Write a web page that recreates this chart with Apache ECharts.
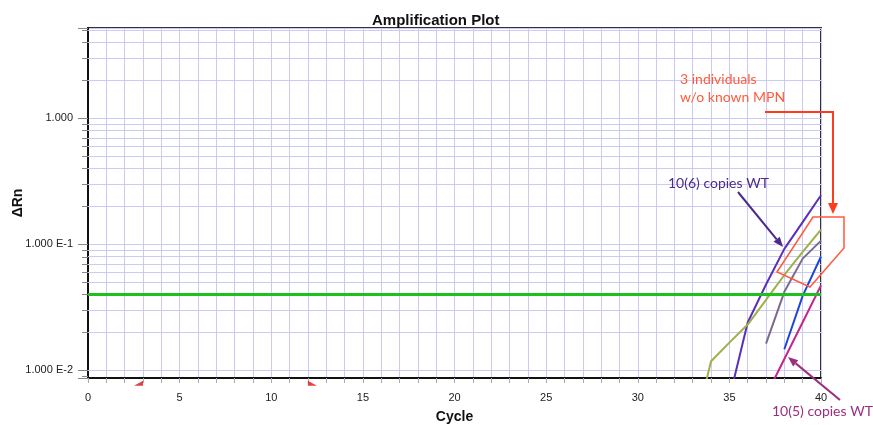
<!DOCTYPE html>
<html>
<head>
<meta charset="utf-8">
<title>Amplification Plot</title>
<script src="https://cdn.jsdelivr.net/npm/echarts@6/dist/echarts.min.js"></script>
<style>
  html, body { margin: 0; padding: 0; background: #fff; }
  #main { width: 873px; height: 425px; }
</style>
</head>
<body>
<div id="main"></div>
<script>
// ΔRn per cycle
var wt6Cycles = [35, 36, 37, 38, 39, 40];
var wt6Values = [0.006, 0.024, 0.048, 0.092, 0.15, 0.245];
var ind1Cycles = [33, 34, 35, 36, 37, 38, 39, 40];
var ind1Values = [0.003, 0.0118, 0.0166, 0.0231, 0.0363, 0.0571, 0.087, 0.131];
var ind2Cycles = [37, 38, 39, 40];
var ind2Values = [0.0163, 0.042, 0.077, 0.107];
var ind3Cycles = [38, 39, 40];
var ind3Values = [0.0147, 0.039, 0.08];
var wt5Cycles = [37, 38, 39, 40];
var wt5Values = [0.0063, 0.0123, 0.0241, 0.0472];

var threshold = 0.04;
var baselineCycles = [3, 12];
var yLabels = { '0': '1.000', '-1': '1.000 E-1', '-2': '1.000 E-2' };

var yMin = 0.0087, yMax = 5.2;
var gridColor = '#cbcbf2';
var font = 'Liberation Sans, Arial, sans-serif';

// 2..9 x 10^k inside the axis range (log minor grid)
var minorValues = [];
for (var e = -3; e <= 0; e++) {
  for (var m = 2; m <= 9; m++) {
    var v = m * Math.pow(10, e);
    if (v > yMin && v < yMax) minorValues.push(v);
  }
}

function pairs(xs, ys) {
  return xs.map(function (c, i) { return [c, ys[i]]; });
}

function curve(name, xs, ys, color) {
  return {
    name: name,
    type: 'line',
    data: pairs(xs, ys),
    symbol: 'none',
    clip: true,
    lineStyle: { color: color, width: 2 },
    itemStyle: { color: color },
    z: 3
  };
}

// arrow as a line plus a filled head
function arrow(x1, y1, x2, y2, color, w) {
  var dx = x2 - x1, dy = y2 - y1, L = Math.sqrt(dx * dx + dy * dy);
  var ux = dx / L, uy = dy / L, hl = 10, hw = 4;
  var bx = x2 - ux * hl, by = y2 - uy * hl;
  return [
    { type: 'line', z: 100, shape: { x1: x1, y1: y1, x2: bx, y2: by }, style: { stroke: color, lineWidth: w } },
    { type: 'polygon', z: 100, shape: { points: [[x2, y2], [bx - uy * hw, by + ux * hw], [bx + uy * hw, by - ux * hw]] }, style: { fill: color } }
  ];
}

var chart = echarts.init(document.getElementById('main'));

var lines = [
  curve('10(6) copies WT', wt6Cycles, wt6Values, '#5a2fb8'),
  curve('individual 1', ind1Cycles, ind1Values, '#9db04a'),
  curve('individual 2', ind2Cycles, ind2Values, '#7b6a8e'),
  curve('individual 3', ind3Cycles, ind3Values, '#1e46d8'),
  curve('10(5) copies WT', wt5Cycles, wt5Values, '#c4248e')
];

// threshold line
lines[0].markLine = {
  silent: true,
  symbol: 'none',
  label: { show: false },
  lineStyle: { color: '#1fbf1f', width: 3, type: 'solid' },
  data: [{ yAxis: threshold }],
  z: 4
};

// minor horizontal grid
lines[1].markLine = {
  silent: true,
  symbol: 'none',
  label: { show: false },
  lineStyle: { color: gridColor, width: 1, type: 'solid' },
  data: minorValues.map(function (v) { return { yAxis: v }; }),
  z: 1
};

// baseline start / end flags under the axis
var flagY = yMin * 0.91;
var markers = [
  {
    type: 'scatter', clip: false, silent: true,
    data: [[baselineCycles[0], flagY]],
    symbol: 'path://M0,10 L10,0 L10,10 Z', symbolSize: [9, 5], symbolOffset: [-4.5, 0],
    itemStyle: { color: '#e01010' }, z: 5
  },
  {
    type: 'scatter', clip: false, silent: true,
    data: [[baselineCycles[1], flagY]],
    symbol: 'path://M0,0 L10,10 L0,10 Z', symbolSize: [9, 5], symbolOffset: [4.5, 0],
    itemStyle: { color: '#e01010' }, z: 5
  }
];

var option = {
  backgroundColor: '#fff',
  animation: false,
  title: {
    text: 'Amplification Plot',
    left: 367,
    top: 8,
    textStyle: { fontSize: 15, fontWeight: 'bold', color: '#111', fontFamily: font }
  },
  grid: {
    left: 88, right: 52, top: 28, bottom: 47,
    containLabel: false, outerBoundsMode: 'none',
    show: true, borderColor: '#333', borderWidth: 2, backgroundColor: '#fff'
  },
  xAxis: {
    type: 'value',
    min: 0, max: 40, interval: 1,
    name: 'Cycle',
    nameLocation: 'middle',
    nameGap: 32,
    nameMoveOverlap: false,
    nameTextStyle: { fontSize: 14, fontWeight: 'bold', color: '#111', fontFamily: font },
    axisLine: { lineStyle: { color: '#111', width: 2 } },
    axisTick: { show: true, length: 5, lineStyle: { color: '#aaa' } },
    axisLabel: {
      margin: 14, fontSize: 11, color: '#222', fontFamily: font,
      formatter: function (v) { return v % 5 === 0 ? String(v) : ''; }
    },
    splitLine: { show: true, lineStyle: { color: gridColor, width: 1 } }
  },
  yAxis: {
    type: 'log',
    min: yMin, max: yMax,
    name: 'ΔRn',
    nameLocation: 'middle',
    nameGap: 63,
    nameMoveOverlap: false,
    nameTextStyle: { fontSize: 14, fontWeight: 'bold', color: '#111', fontFamily: font },
    axisLine: { show: true, lineStyle: { color: '#111', width: 2 } },
    axisTick: { show: true, length: 10, lineStyle: { color: '#888' } },
    axisLabel: {
      margin: 15, fontSize: 11, color: '#222', fontFamily: font,
      formatter: function (v) {
        var e = Math.log10(v), r = Math.round(e);
        return Math.abs(e - r) < 1e-6 && yLabels[String(r)] ? yLabels[String(r)] : '';
      }
    },
    splitLine: { show: true, lineStyle: { color: gridColor, width: 1 } }
  },
  series: lines.concat(markers)
};

chart.setOption(option);

// minor y ticks placed through the axis scale, plus annotations
var axisX = chart.convertToPixel({ xAxisIndex: 0 }, 0);
var graphics = minorValues.map(function (v) {
  var y = Math.round(chart.convertToPixel({ yAxisIndex: 0 }, v)) + 0.5;
  return { type: 'line', z: 50, shape: { x1: axisX - 6, y1: y, x2: axisX, y2: y }, style: { stroke: '#888', lineWidth: 1 } };
});

graphics = graphics
  .concat([
    { type: 'text', left: 680, top: 70, z: 100,
      style: { text: '3 individuals\nw/o known MPN', fill: '#ff5a3c', fontSize: 14, fontFamily: 'Lato', lineHeight: 18 } },
    { type: 'polyline', z: 100, shape: { points: [[765, 112], [833, 112], [833, 204]] },
      style: { stroke: '#ff3b1f', lineWidth: 2, fill: null } },
    { type: 'polygon', z: 100, shape: { points: [[828, 203], [838, 203], [833, 214]] }, style: { fill: '#ff3b1f' } },
    { type: 'polygon', z: 100, shape: { points: [[813, 217], [844, 217], [844, 248], [810, 287], [777, 272]] },
      style: { stroke: '#ff5a3c', lineWidth: 1.5, fill: null } },
    { type: 'text', left: 668, top: 176, z: 100,
      style: { text: '10(6) copies WT', fill: '#4b2a8c', fontSize: 14, fontFamily: 'Lato' } },
    { type: 'text', left: 772, top: 404, z: 100,
      style: { text: '10(5) copies WT', fill: '#9b2f7f', fontSize: 14, fontFamily: 'Lato' } }
  ])
  .concat(arrow(738, 192, 783, 247, '#4b2a8c', 2))
  .concat(arrow(840, 400, 788, 357, '#9b2f7f', 2));

chart.setOption({ graphic: graphics });
</script>
</body>
</html>
